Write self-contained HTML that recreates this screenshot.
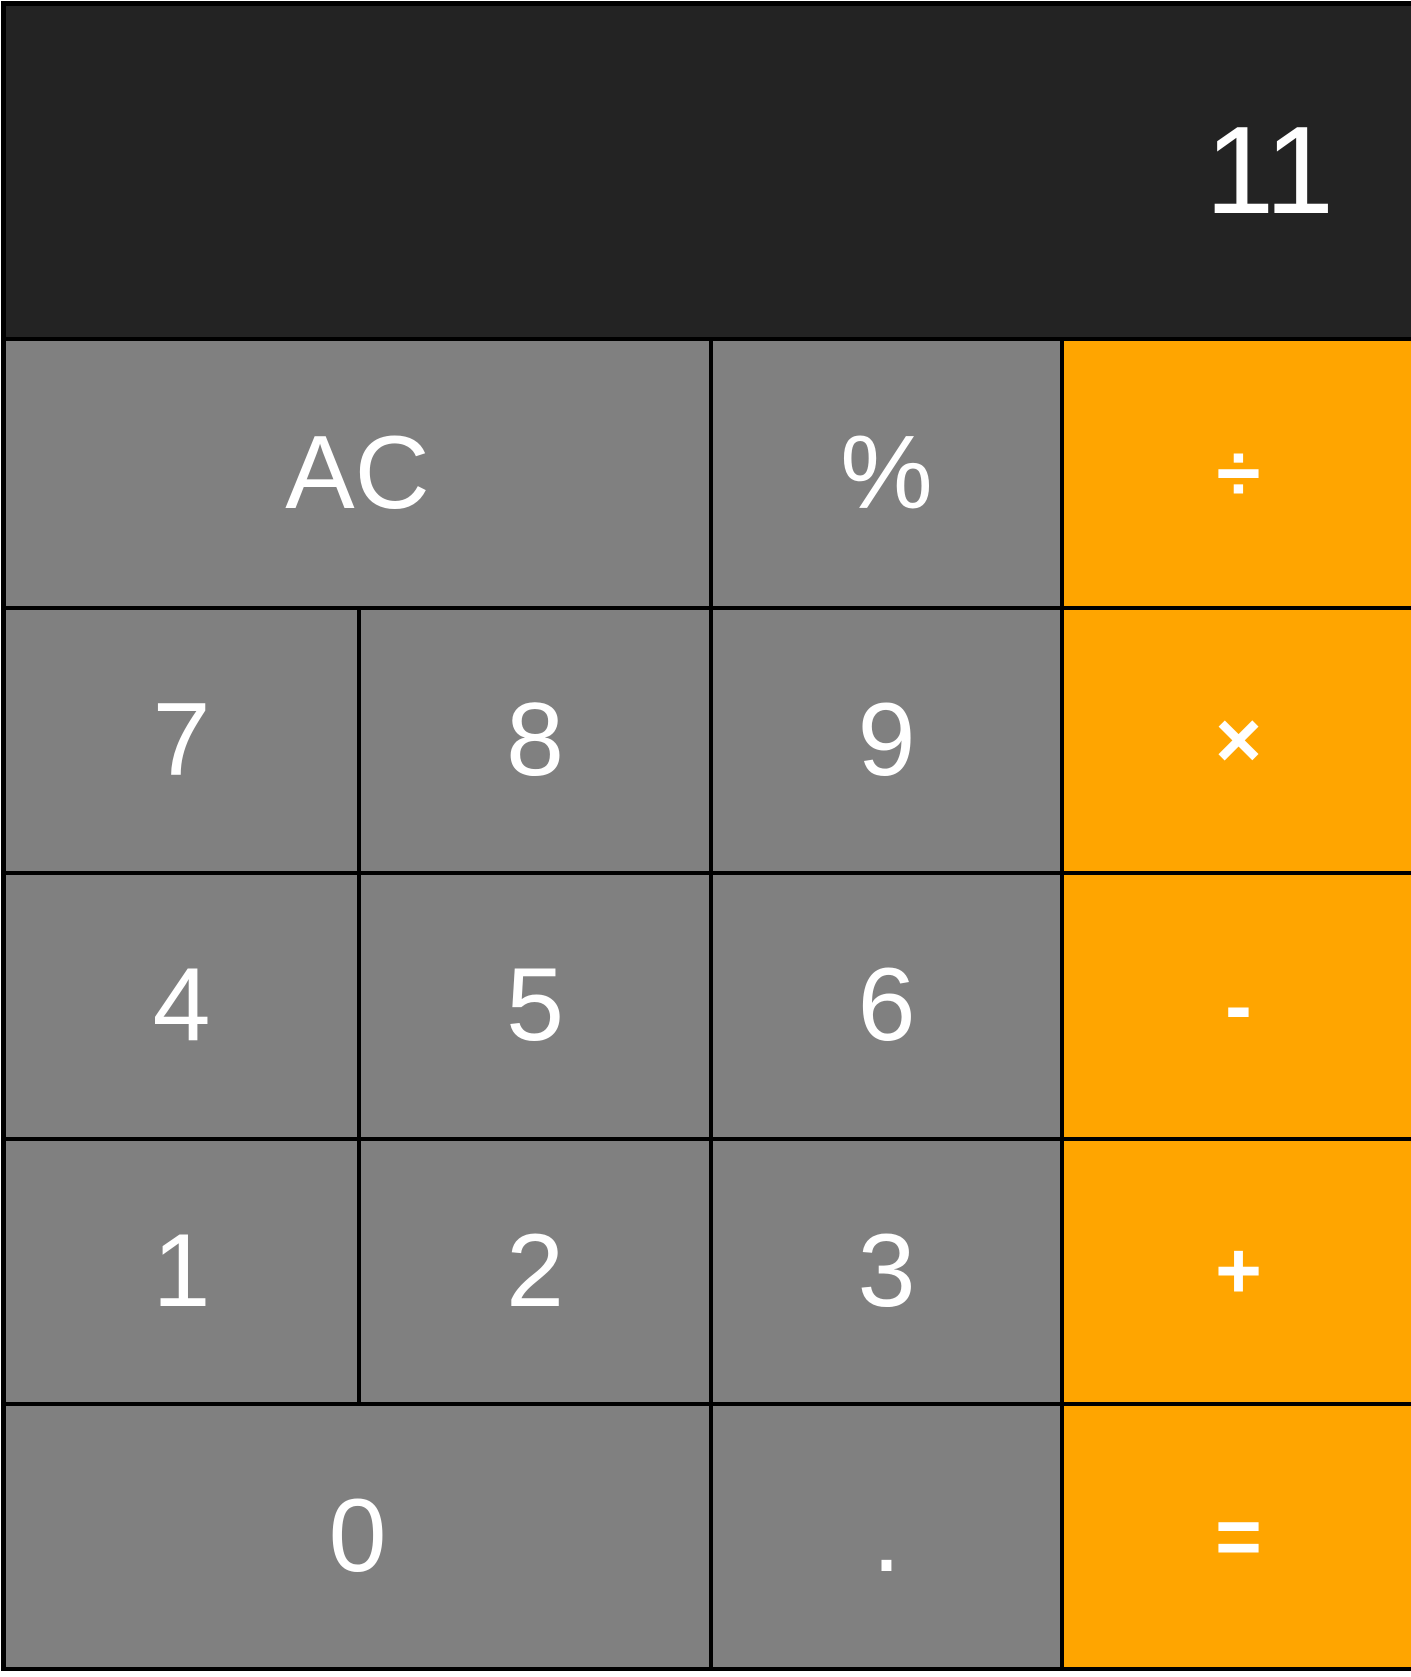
<!DOCTYPE html>
<html><head><meta charset="utf-8"><style>
html,body{margin:0;padding:0;background:#fff;width:1411px;height:1677px;overflow:hidden;font-family:"Liberation Sans",Arial,sans-serif}
#calc{position:absolute;left:1px;top:1px;width:1412px;height:1670px;background:#000}
.c{position:absolute;display:flex;align-items:center;justify-content:center;color:#fff;font-size:104px;background:#808080}
.o{background:#ffa500;font-weight:bold}
#display{position:absolute;left:5px;top:5px;width:1406px;height:331px;background:#232323;color:#fff;font-size:124px;text-align:right;box-sizing:border-box;padding-right:78px;line-height:331px}
</style></head><body>
<div id="calc">
<div id="display">11</div>
</div>
<script>
const calc=document.getElementById('calc');
const colX=[4,356,708,1059,1412];
const rowY=[339,604.5,870,1135.5,1401,1666];
const keys=[
['AC',0,0,2,0,'clear-button'],['%',0,2,1,0,'percent-button'],['÷',0,3,1,1,'divide-button'],
['7',1,0,1,0,'seven-button'],['8',1,1,1,0,'eight-button'],['9',1,2,1,0,'nine-button'],['×',1,3,1,1,'multiply-button'],
['4',2,0,1,0,'four-button'],['5',2,1,1,0,'five-button'],['6',2,2,1,0,'six-button'],['-',2,3,1,1,'subtract-button'],
['1',3,0,1,0,'one-button'],['2',3,1,1,0,'two-button'],['3',3,2,1,0,'three-button'],['+',3,3,1,1,'add-button'],
['0',4,0,2,0,'zero-button'],['.',4,2,1,0,'decimal-button'],['=',4,3,1,1,'equals-button']];
keys.forEach(k=>{
 const d=document.createElement('div');
 d.className='c'+(k[4]?' o':'');
 const x0=colX[k[2]]+(k[2]===0?1:4), x1=colX[k[2]+k[3]];
 const y0=rowY[k[1]]+ (k[1]===0?1:4), y1=rowY[k[1]+1];
 d.style.left=x0+'px';d.style.top=y0+'px';
 d.style.width=(x1-x0)+'px';d.style.height=(y1-y0)+'px';
 if(k[4]) d.style.fontSize='80px';
 d.textContent=k[0];
 
 
 calc.appendChild(d);
});
</script>
</body></html>
